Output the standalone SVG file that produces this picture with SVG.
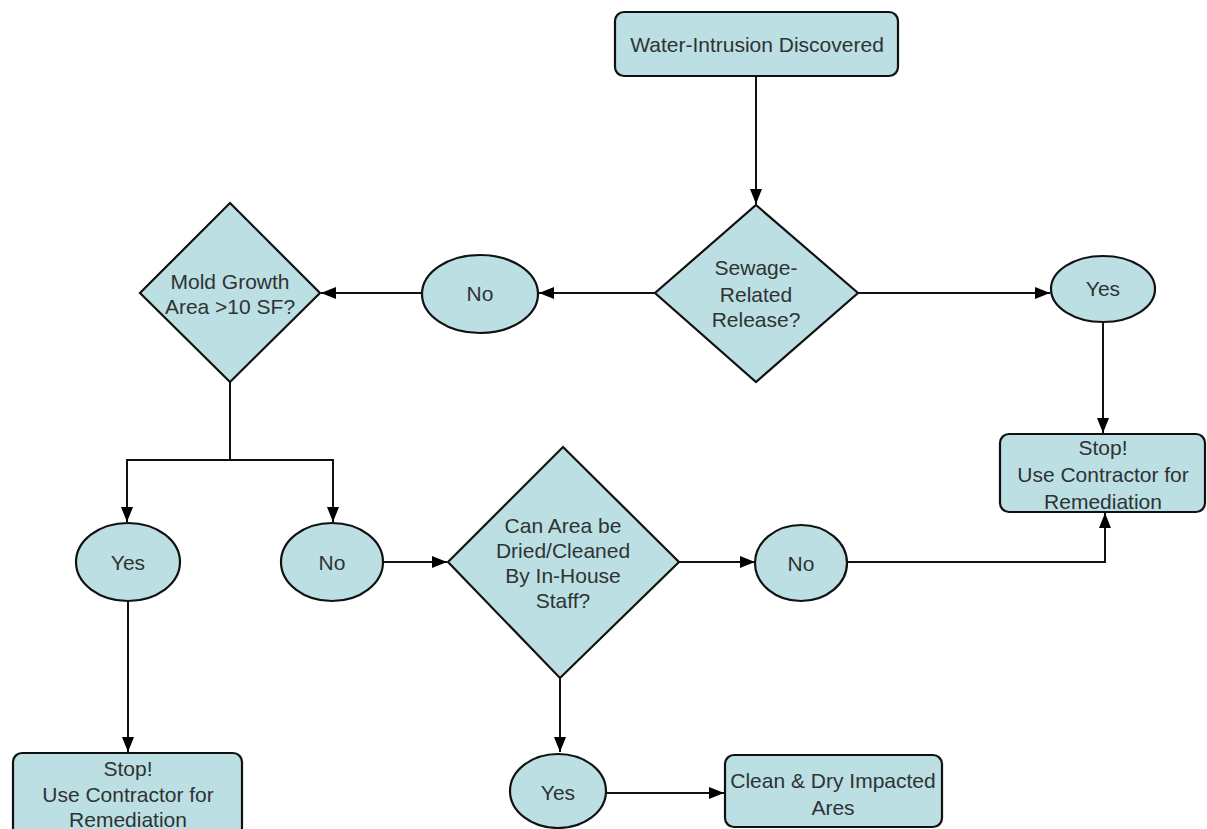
<svg xmlns="http://www.w3.org/2000/svg" width="1207" height="829" viewBox="0 0 1207 829">
<style>
.n{fill:#bcdfe3;stroke:#111;stroke-width:2.2}
.t{font-family:"Liberation Sans",Arial,sans-serif;font-size:21px;fill:#2e3333;text-anchor:middle}
.c{fill:none;stroke:#111;stroke-width:2}
</style>
<defs>
<marker id="a" markerUnits="userSpaceOnUse" markerWidth="16" markerHeight="14" refX="15" refY="7" orient="auto">
<path d="M0,1 L15,7 L0,13 Z" fill="#000"/>
</marker>
</defs>
<rect width="1207" height="829" fill="#fff"/>
<g id="connectors">
<path class="c" d="M756,76 V204" marker-end="url(#a)"/>
<path class="c" d="M655,293 H539" marker-end="url(#a)"/>
<path class="c" d="M422,293 H321" marker-end="url(#a)"/>
<path class="c" d="M858,293 H1050" marker-end="url(#a)"/>
<path class="c" d="M1103,322 V433" marker-end="url(#a)"/>
<path class="c" d="M230,382 V460 H127 V522" marker-end="url(#a)"/>
<path class="c" d="M230,460 H333 V522" marker-end="url(#a)"/>
<path class="c" d="M383,562 H447" marker-end="url(#a)"/>
<path class="c" d="M679,562 H755" marker-end="url(#a)"/>
<path class="c" d="M848,562 H1105 V513" marker-end="url(#a)"/>
<path class="c" d="M128,601 V752" marker-end="url(#a)"/>
<path class="c" d="M560,677 V752" marker-end="url(#a)"/>
<path class="c" d="M607,793 H724" marker-end="url(#a)"/>
</g>
<g id="start">
<rect class="n" x="615" y="12" width="283" height="64" rx="9"/>
<text class="t" x="757" y="52">Water-Intrusion Discovered</text>
</g>
<g id="sewage">
<polygon class="n" points="756,205 858,293 756,382 655,293"/>
<text class="t" x="756" y="275">Sewage-</text>
<text class="t" x="756" y="302">Related</text>
<text class="t" x="756" y="327">Release?</text>
</g>
<g id="no1">
<ellipse class="n" cx="480" cy="294" rx="58" ry="39"/>
<text class="t" x="480" y="301">No</text>
</g>
<g id="yes1">
<ellipse class="n" cx="1103" cy="289" rx="52" ry="33"/>
<text class="t" x="1103" y="296">Yes</text>
</g>
<g id="stop1">
<rect class="n" x="1000" y="434" width="205" height="78" rx="9"/>
<text class="t" x="1103" y="455">Stop!</text>
<text class="t" x="1103" y="482">Use Contractor for</text>
<text class="t" x="1103" y="509">Remediation</text>
</g>
<g id="mold">
<polygon class="n" points="230,203 320,293 230,382 140,293"/>
<text class="t" x="230" y="289">Mold Growth</text>
<text class="t" x="230" y="314">Area &gt;10 SF?</text>
</g>
<g id="yes2">
<ellipse class="n" cx="128" cy="562" rx="52" ry="39"/>
<text class="t" x="128" y="570">Yes</text>
</g>
<g id="no2">
<ellipse class="n" cx="332" cy="562" rx="51" ry="39"/>
<text class="t" x="332" y="570">No</text>
</g>
<g id="dry">
<polygon class="n" points="563,447 679,562 560,678 448,562"/>
<text class="t" x="563" y="533">Can Area be</text>
<text class="t" x="563" y="558">Dried/Cleaned</text>
<text class="t" x="563" y="583">By In-House</text>
<text class="t" x="563" y="608">Staff?</text>
</g>
<g id="no3">
<ellipse class="n" cx="801" cy="563" rx="46" ry="38"/>
<text class="t" x="801" y="571">No</text>
</g>
<g id="stop2">
<rect class="n" x="13" y="753" width="229" height="86" rx="9"/>
<text class="t" x="128" y="776">Stop!</text>
<text class="t" x="128" y="802">Use Contractor for</text>
<text class="t" x="128" y="827">Remediation</text>
</g>
<g id="yes3">
<ellipse class="n" cx="558" cy="791" rx="48" ry="37"/>
<text class="t" x="558" y="800">Yes</text>
</g>
<g id="clean">
<rect class="n" x="725" y="755" width="217" height="72" rx="9"/>
<text class="t" x="833" y="788">Clean &amp; Dry Impacted</text>
<text class="t" x="833" y="815">Ares</text>
</g>
</svg>
